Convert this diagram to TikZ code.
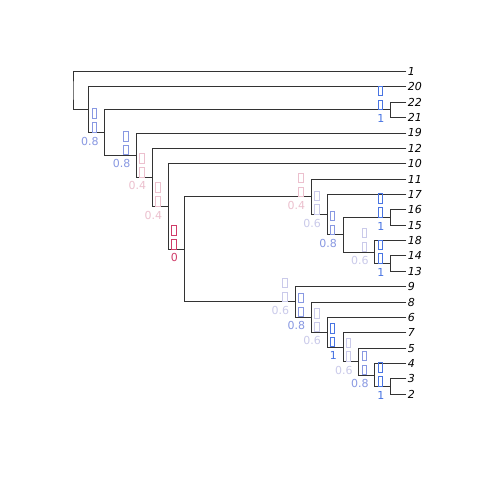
\documentclass[tikz,border=0pt]{standalone}
\usepackage{fontspec}
\setmainfont{DejaVu Sans}
\usetikzlibrary{calc}
\definecolor{sup0}{RGB}{208,60,105}
\definecolor{sup4}{RGB}{236,192,206}
\definecolor{sup6}{RGB}{202,202,234}
\definecolor{sup8}{RGB}{136,152,226}
\definecolor{sup10}{RGB}{72,116,226}
\newcommand\mynd[3]{\coordinate (#1) at ({73+15.88*#2},{71.5+15.37*#3});}
\newcommand\myedge[3]{\draw[edge] (#2) -| (#1) |- (#3);}
\newcommand\mysup[3]{%
  \draw[tofu,draw=#2] ($(#1)+(-12.8,-23.8)$) rectangle ($(#1)+(-8.2,-14.4)$);
  \draw[tofu,draw=#2] ($(#1)+(-12.8,-10)$) rectangle ($(#1)+(-8.2,-0.6)$);
  \node[suplab,text=#2] (s#1) at ($(#1)+(-6,12.5)$) {#3};}
\begin{document}
\begin{tikzpicture}[x=1pt,y=-1pt,
  edge/.style={draw=black!80,line width=0.9pt},
  tofu/.style={line width=0.6pt},
  tiplab/.style={anchor=west,inner sep=0pt,font=\fontsize{11}{13}\selectfont\itshape},
  suplab/.style={anchor=base east,inner sep=0pt,font=\fontsize{11}{13}\selectfont}]
\fill[white] (0,0) rectangle (480,480);
\useasboundingbox (0,0) rectangle (480,480);
% tips
\mynd{t1}{21}{0}\mynd{t20}{21}{1}\mynd{t22}{21}{2}\mynd{t21}{21}{3}
\mynd{t19}{21}{4}\mynd{t12}{21}{5}\mynd{t10}{21}{6}\mynd{t11}{21}{7}
\mynd{t17}{21}{8}\mynd{t16}{21}{9}\mynd{t15}{21}{10}\mynd{t18}{21}{11}
\mynd{t14}{21}{12}\mynd{t13}{21}{13}\mynd{t9}{21}{14}\mynd{t8}{21}{15}
\mynd{t6}{21}{16}\mynd{t7}{21}{17}\mynd{t5}{21}{18}\mynd{t4}{21}{19}
\mynd{t3}{21}{20}\mynd{t2}{21}{21}
% internal nodes
\mynd{n2221}{20}{2.5}
\mynd{n1413}{20}{12.5}
\mynd{n18}{19}{11.75}
\mynd{n1615}{20}{9.5}
\mynd{nq}{17}{10.625}
\mynd{n17}{16}{9.3125}
\mynd{n11}{15}{8.15625}
\mynd{n32}{20}{20.5}
\mynd{n4}{19}{19.75}
\mynd{n5}{18}{18.875}
\mynd{n7}{17}{17.9375}
\mynd{n6}{16}{16.96875}
\mynd{n8}{15}{15.984375}
\mynd{n9}{14}{14.9921875}
\mynd{nF}{7}{11.57421875}
\mynd{nE}{6}{8.787109375}
\mynd{nD}{5}{6.8935546875}
\mynd{nC}{4}{5.44677734375}
\mynd{nB}{2}{3.973388671875}
\mynd{nA}{1}{2.4866943359375}
\mynd{nR}{0}{1.24334716796875}
% edges
\myedge{nR}{t1}{nA}
\myedge{nA}{t20}{nB}
\myedge{nB}{n2221}{nC}
\myedge{n2221}{t22}{t21}
\myedge{nC}{t19}{nD}
\myedge{nD}{t12}{nE}
\myedge{nE}{t10}{nF}
\myedge{nF}{n11}{n9}
\myedge{n11}{t11}{n17}
\myedge{n17}{t17}{nq}
\myedge{nq}{n1615}{n18}
\myedge{n1615}{t16}{t15}
\myedge{n18}{t18}{n1413}
\myedge{n1413}{t14}{t13}
\myedge{n9}{t9}{n8}
\myedge{n8}{t8}{n6}
\myedge{n6}{t6}{n7}
\myedge{n7}{t7}{n5}
\myedge{n5}{t5}{n4}
\myedge{n4}{t4}{n32}
\myedge{n32}{t3}{t2}
% tip labels
\foreach \t in {1,20,22,21,19,12,10,11,17,16,15,18,14,13,9,8,6,7,5,4,3,2}
  \node[tiplab] (l\t) at ([xshift=1.2pt]t\t) {\t};
% support labels
\mysup{nB}{sup8}{0.8}
\mysup{nC}{sup8}{0.8}
\mysup{nD}{sup4}{0.4}
\mysup{nE}{sup4}{0.4}
\mysup{nF}{sup0}{0}
\mysup{n2221}{sup10}{1}
\mysup{n11}{sup4}{0.4}
\mysup{n17}{sup6}{0.6}
\mysup{nq}{sup8}{0.8}
\mysup{n1615}{sup10}{1}
\mysup{n18}{sup6}{0.6}
\mysup{n1413}{sup10}{1}
\mysup{n9}{sup6}{0.6}
\mysup{n8}{sup8}{0.8}
\mysup{n6}{sup6}{0.6}
\mysup{n7}{sup10}{1}
\mysup{n5}{sup6}{0.6}
\mysup{n4}{sup8}{0.8}
\mysup{n32}{sup10}{1}
\end{tikzpicture}
\end{document}
